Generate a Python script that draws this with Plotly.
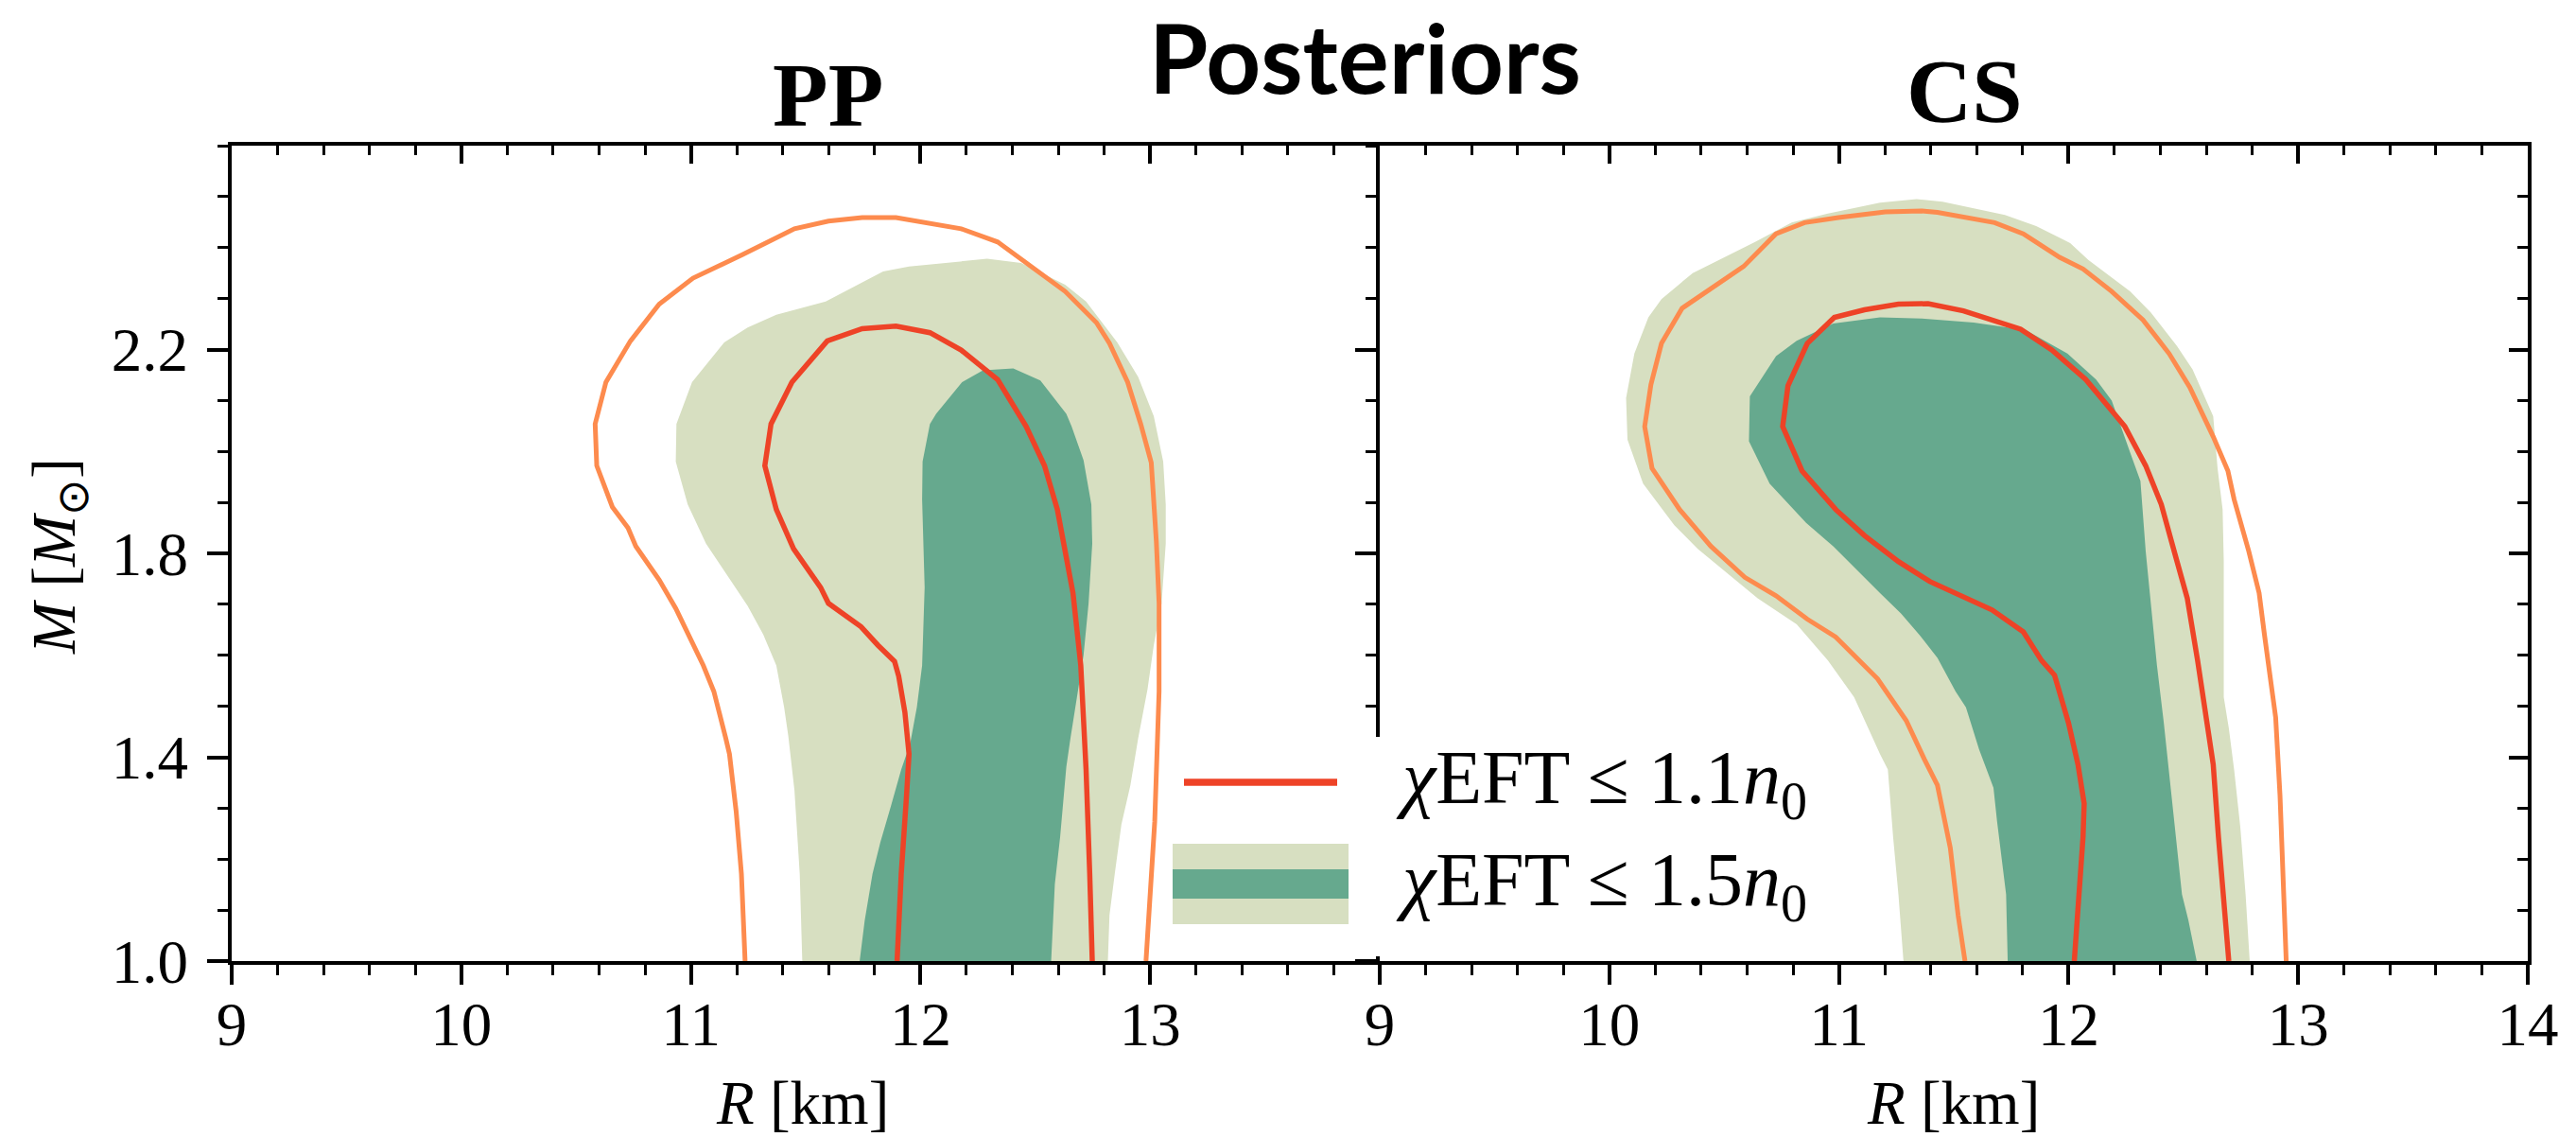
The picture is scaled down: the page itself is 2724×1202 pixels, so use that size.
import plotly.graph_objects as go

# ---------------- data (R in km, M in solar masses) ----------------
# PP panel
pp_light_R = [11.485, 11.474, 11.451, 11.424, 11.406, 11.372, 11.315, 11.247, 11.179, 11.066, 10.986, 10.934, 10.937, 11.005, 11.145, 11.247, 11.372, 11.587, 11.837, 11.950, 12.290, 12.438, 12.630, 12.721, 12.857, 12.948, 13.016, 13.057, 13.068, 13.068, 13.050, 13.016, 12.989, 12.948, 12.914, 12.875, 12.846, 12.823, 12.816]
pp_light_M = [1.0, 1.171, 1.335, 1.442, 1.498, 1.580, 1.641, 1.697, 1.743, 1.819, 1.896, 1.980, 2.054, 2.136, 2.214, 2.243, 2.268, 2.294, 2.353, 2.363, 2.378, 2.370, 2.327, 2.294, 2.214, 2.146, 2.069, 1.980, 1.896, 1.819, 1.702, 1.620, 1.534, 1.437, 1.345, 1.268, 1.171, 1.090, 1.0]

pp_dark_R = [11.735, 11.757, 11.791, 11.825, 11.871, 11.916, 11.955, 11.984, 12.007, 12.018, 12.007, 12.009, 12.041, 12.068, 12.181, 12.272, 12.404, 12.522, 12.635, 12.658, 12.710, 12.744, 12.748, 12.732, 12.710, 12.680, 12.653, 12.635, 12.608, 12.585, 12.569]
pp_dark_M = [1.0, 1.080, 1.171, 1.233, 1.304, 1.376, 1.427, 1.498, 1.580, 1.733, 1.906, 1.980, 2.054, 2.074, 2.136, 2.159, 2.163, 2.139, 2.074, 2.049, 1.983, 1.896, 1.819, 1.702, 1.600, 1.518, 1.437, 1.381, 1.243, 1.151, 1.0]

pp_outer_R = [11.236, 11.220, 11.197, 11.168, 11.152, 11.127, 11.100, 11.054, 10.998, 10.934, 10.862, 10.760, 10.726, 10.658, 10.590, 10.583, 10.630, 10.737, 10.862, 11.009, 11.224, 11.451, 11.599, 11.746, 11.893, 12.063, 12.177, 12.336, 12.494, 12.630, 12.766, 12.823, 12.902, 12.959, 13.005, 13.027, 13.039, 13.039, 13.020, 13.005, 12.982]
pp_outer_M = [1.0, 1.171, 1.294, 1.406, 1.437, 1.478, 1.529, 1.580, 1.631, 1.692, 1.748, 1.814, 1.850, 1.891, 1.972, 2.054, 2.136, 2.217, 2.289, 2.340, 2.386, 2.437, 2.452, 2.459, 2.459, 2.447, 2.437, 2.411, 2.360, 2.314, 2.253, 2.212, 2.136, 2.054, 1.978, 1.824, 1.702, 1.529, 1.273, 1.151, 1.0]

pp_inner_R = [11.898, 11.916, 11.939, 11.950, 11.932, 11.905, 11.887, 11.814, 11.741, 11.599, 11.565, 11.447, 11.372, 11.322, 11.349, 11.440, 11.594, 11.746, 11.893, 12.041, 12.177, 12.336, 12.460, 12.540, 12.596, 12.664, 12.698, 12.721, 12.737, 12.748]
pp_inner_M = [1.0, 1.171, 1.324, 1.406, 1.488, 1.559, 1.588, 1.620, 1.656, 1.702, 1.733, 1.809, 1.886, 1.972, 2.054, 2.136, 2.217, 2.241, 2.246, 2.233, 2.199, 2.141, 2.049, 1.972, 1.886, 1.722, 1.580, 1.376, 1.171, 1.0]

# CS panel
cs_light_R = [11.281, 11.259, 11.236, 11.213, 11.179, 11.066, 10.952, 10.816, 10.646, 10.385, 10.283, 10.147, 10.079, 10.073, 10.109, 10.170, 10.227, 10.363, 10.635, 10.794, 10.952, 11.179, 11.338, 11.451, 11.723, 11.859, 12.007, 12.086, 12.268, 12.358, 12.472, 12.540, 12.630, 12.649, 12.671, 12.676, 12.676, 12.698, 12.721, 12.748, 12.771, 12.789]
cs_light_M = [1.0, 1.131, 1.243, 1.376, 1.406, 1.518, 1.590, 1.661, 1.712, 1.809, 1.855, 1.937, 2.023, 2.105, 2.192, 2.263, 2.299, 2.350, 2.411, 2.449, 2.467, 2.488, 2.495, 2.490, 2.464, 2.442, 2.409, 2.376, 2.314, 2.273, 2.207, 2.161, 2.069, 1.967, 1.886, 1.784, 1.518, 1.457, 1.376, 1.263, 1.131, 1.0]

cs_dark_R = [11.735, 11.728, 11.689, 11.673, 11.610, 11.553, 11.508, 11.429, 11.349, 11.270, 11.179, 11.066, 10.975, 10.857, 10.782, 10.698, 10.608, 10.612, 10.726, 10.816, 10.975, 11.179, 11.361, 11.587, 11.814, 11.995, 12.120, 12.188, 12.268, 12.313, 12.336, 12.370, 12.385, 12.415, 12.444, 12.472, 12.494, 12.522, 12.558]
cs_dark_M = [1.0, 1.131, 1.273, 1.340, 1.416, 1.498, 1.529, 1.595, 1.641, 1.682, 1.722, 1.773, 1.814, 1.860, 1.896, 1.937, 2.020, 2.108, 2.187, 2.217, 2.251, 2.263, 2.261, 2.253, 2.238, 2.192, 2.141, 2.100, 1.998, 1.942, 1.804, 1.651, 1.580, 1.467, 1.345, 1.222, 1.131, 1.080, 1.0]

cs_outer_R = [11.549, 11.519, 11.485, 11.447, 11.429, 11.372, 11.293, 11.168, 10.986, 10.862, 10.726, 10.590, 10.442, 10.306, 10.186, 10.154, 10.181, 10.227, 10.317, 10.585, 10.726, 10.850, 10.998, 11.202, 11.361, 11.429, 11.678, 11.803, 11.961, 12.063, 12.188, 12.324, 12.438, 12.528, 12.630, 12.694, 12.721, 12.785, 12.830, 12.853, 12.880, 12.902, 12.921, 12.937, 12.948]
cs_outer_M = [1.0, 1.090, 1.222, 1.309, 1.345, 1.396, 1.472, 1.554, 1.636, 1.671, 1.717, 1.753, 1.814, 1.886, 1.967, 2.049, 2.131, 2.212, 2.281, 2.363, 2.427, 2.449, 2.459, 2.470, 2.472, 2.469, 2.449, 2.427, 2.381, 2.358, 2.314, 2.258, 2.192, 2.126, 2.029, 1.962, 1.906, 1.804, 1.722, 1.641, 1.559, 1.478, 1.324, 1.131, 1.0]

cs_inner_R = [12.025, 12.048, 12.063, 12.068, 12.041, 12.000, 11.939, 11.882, 11.803, 11.667, 11.542, 11.395, 11.259, 11.111, 10.986, 10.839, 10.755, 10.778, 10.862, 10.980, 11.111, 11.259, 11.388, 11.542, 11.791, 11.927, 12.075, 12.245, 12.336, 12.404, 12.460, 12.517, 12.562, 12.596, 12.630, 12.653, 12.676, 12.698]
cs_inner_M = [1.0, 1.131, 1.243, 1.309, 1.386, 1.467, 1.561, 1.590, 1.646, 1.689, 1.716, 1.745, 1.784, 1.835, 1.886, 1.962, 2.049, 2.129, 2.212, 2.263, 2.278, 2.289, 2.290, 2.276, 2.240, 2.199, 2.141, 2.049, 1.972, 1.896, 1.804, 1.712, 1.590, 1.488, 1.386, 1.243, 1.131, 1.0]

x_major_left = [9, 10, 11, 12, 13]
x_major_right = [9, 10, 11, 12, 13, 14]
y_major = [1.0, 1.4, 1.8, 2.2]
y_major_text = ["1.0", "1.4", "1.8", "2.2"]
panel_titles = ["PP", "CS"]
legend_labels = ["<i>χ</i>EFT ≤ 1.1<i>n</i><sub>0</sub>", "<i>χ</i>EFT ≤ 1.5<i>n</i><sub>0</sub>"]

# ---------------- style ----------------
LIGHT = "#d7dfc1"
DARK = "#66a98e"
ORANGE = "#fd8b4e"
RED = "#ee4327"
W, H = 2724, 1202
ML, MR, MT, MB = 245, 51, 154, 186
PW, PH = W - ML - MR, H - MT - MB
SERIF = "Liberation Serif"


def px(x):
    return (x - ML) / PW


def py(y):
    return (H - MB - y) / PH


fig = go.Figure()


def add_panel(lightR, lightM, darkR, darkM, outR, outM, inR, inM, xa, ya):
    for R, M, c in [(lightR, lightM, LIGHT), (darkR, darkM, DARK)]:
        fig.add_trace(go.Scatter(x=R, y=M, mode="lines", fill="toself", fillcolor=c,
                                 line=dict(width=0, color=c), xaxis=xa, yaxis=ya,
                                 showlegend=False, hoverinfo="skip"))
    fig.add_trace(go.Scatter(x=outR, y=outM, mode="lines", line=dict(color=ORANGE, width=5),
                             xaxis=xa, yaxis=ya, showlegend=False, hoverinfo="skip"))
    fig.add_trace(go.Scatter(x=inR, y=inM, mode="lines", line=dict(color=RED, width=5.5),
                             xaxis=xa, yaxis=ya, showlegend=False, hoverinfo="skip"))


add_panel(pp_light_R, pp_light_M, pp_dark_R, pp_dark_M, pp_outer_R, pp_outer_M,
          pp_inner_R, pp_inner_M, "x", "y")
add_panel(cs_light_R, cs_light_M, cs_dark_R, cs_dark_M, cs_outer_R, cs_outer_M,
          cs_inner_R, cs_inner_M, "x2", "y2")

# empty traces so the overlay (mirror) axes get drawn
for xa, ya in [("x3", "y"), ("x4", "y2"), ("x2", "y3")]:
    fig.add_trace(go.Scatter(x=[], y=[], xaxis=xa, yaxis=ya, showlegend=False, hoverinfo="skip"))

x_minor = [9 + 0.2 * i for i in range(26)]
y_minor = [1.0 + 0.1 * i for i in range(17)]

tickfont = dict(family=SERIF, size=65, color="black")


def axis(**kw):
    d = dict(showline=True, linewidth=4, linecolor="black", showgrid=False, zeroline=False,
             ticklen=21, tickwidth=3.5, tickcolor="black", tickfont=tickfont)
    d.update(kw)
    return d


def minor(vals, ticks):
    return dict(tickmode="array", tickvals=vals, ticks=ticks, ticklen=11, tickwidth=2.5,
                tickcolor="black", showgrid=False)


fig.update_layout(
    width=W, height=H, margin=dict(l=ML, r=MR, t=MT, b=MB),
    paper_bgcolor="white", plot_bgcolor="white", showlegend=False,
    xaxis=axis(domain=[0, 0.5], range=[9, 14], anchor="y", ticks="outside",
               tickmode="array", tickvals=x_major_left, ticktext=[str(v) for v in x_major_left],
               minor=minor(x_minor, "outside"), ticklabelstandoff=-14),
    xaxis2=axis(domain=[0.5, 1], range=[9, 14], anchor="y2", ticks="outside",
                tickmode="array", tickvals=x_major_right, ticktext=[str(v) for v in x_major_right],
                minor=minor(x_minor, "outside"), ticklabelstandoff=-14),
    xaxis3=axis(range=[9, 14], overlaying="x", side="top", anchor="y", ticks="inside",
                ticklen=19, tickmode="array", tickvals=x_major_right, showticklabels=False,
                minor=dict(minor(x_minor, "inside"), ticklen=10)),
    xaxis4=axis(range=[9, 14], overlaying="x2", side="top", anchor="y2", ticks="inside",
                ticklen=19, tickmode="array", tickvals=x_major_right, showticklabels=False,
                minor=dict(minor(x_minor, "inside"), ticklen=10)),
    yaxis=axis(domain=[0, 1], range=[1.0, 2.6], anchor="x", ticks="outside", ticklen=22,
               tickmode="array", tickvals=y_major, ticktext=y_major_text,
               minor=minor(y_minor, "outside"), ticklabelstandoff=7),
    yaxis2=axis(domain=[0, 1], range=[1.0, 2.6], anchor="x2", ticks="outside", ticklen=22,
                tickmode="array", tickvals=y_major, showticklabels=False,
                minor=minor(y_minor, "outside")),
    yaxis3=axis(range=[1.0, 2.6], overlaying="y2", side="right", anchor="x2", ticks="inside",
                ticklen=20, tickmode="array", tickvals=y_major, showticklabels=False,
                minor=minor(y_minor, "inside")),
)

# legend (drawn by hand: the patch has two tones)
shapes = [
    dict(type="rect", xref="paper", yref="paper", x0=px(1232), x1=px(1968), y0=py(1011), y1=py(779),
         fillcolor="white", line=dict(width=0), layer="above"),
    dict(type="line", xref="paper", yref="paper", x0=px(1252), x1=px(1414), y0=py(827), y1=py(827),
         line=dict(color=RED, width=7.5), layer="above"),
    dict(type="rect", xref="paper", yref="paper", x0=px(1240), x1=px(1426), y0=py(977), y1=py(892),
         fillcolor=LIGHT, line=dict(width=0), layer="above"),
    dict(type="rect", xref="paper", yref="paper", x0=px(1240), x1=px(1426), y0=py(950), y1=py(919),
         fillcolor=DARK, line=dict(width=0), layer="above"),
]
fig.update_layout(shapes=shapes)

ann = []
ann.append(dict(text="<b>Posteriors</b>", x=px(1443), y=py(59.5), xref="paper", yref="paper",
                xanchor="center", yanchor="middle", showarrow=False,
                font=dict(family="Lato", size=101, color="black")))
for t, xc, yc in zip(panel_titles, [875, 2077], [100, 96]):
    ann.append(dict(text="<b>%s</b>" % t, x=px(xc), y=py(yc), xref="paper", yref="paper",
                    xanchor="center", yanchor="middle", showarrow=False,
                    font=dict(family=SERIF, size=96, color="black")))
for xc in [848, 2065]:
    ann.append(dict(text="<i>R</i> [km]", x=px(xc), y=py(1166), xref="paper", yref="paper",
                    xanchor="center", yanchor="middle", showarrow=False,
                    font=dict(family=SERIF, size=65, color="black")))
ann.append(dict(text="<i>M</i> [<i>M</i><sub>⊙</sub>]", x=px(62), y=py(588), xref="paper",
                yref="paper", xanchor="center", yanchor="middle", textangle=-90, showarrow=False,
                font=dict(family=SERIF, size=65, color="black")))
for lab, yc in zip(legend_labels, [828, 936]):
    ann.append(dict(text=lab, x=px(1474), y=py(yc), xref="paper", yref="paper",
                    xanchor="left", yanchor="middle", showarrow=False,
                    font=dict(family=SERIF, size=80, color="black")))
fig.update_layout(annotations=ann)

fig.write_html("out.html")
